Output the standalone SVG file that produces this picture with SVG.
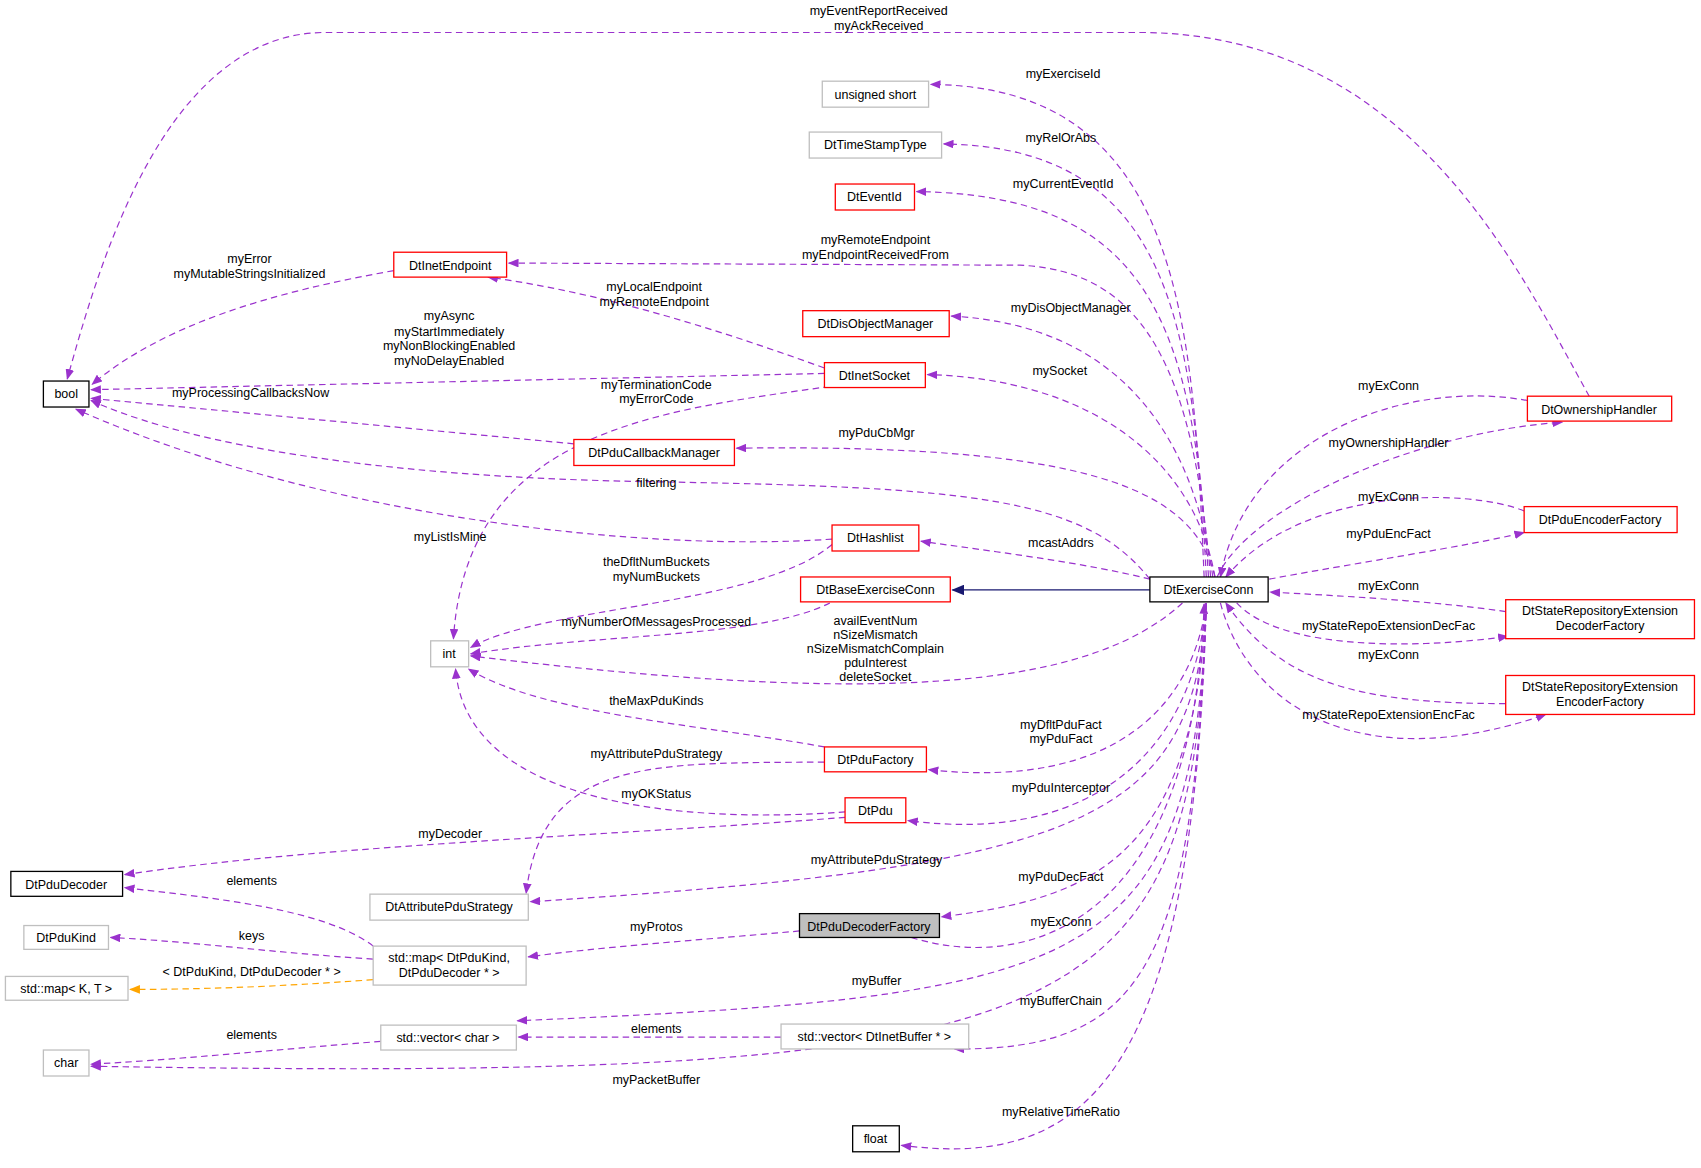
<svg xmlns="http://www.w3.org/2000/svg" width="1701" height="1168" viewBox="0 0 1701 1168">
<defs>
<marker id="a" markerWidth="10" markerHeight="8" refX="9" refY="4" orient="auto" markerUnits="userSpaceOnUse"><path d="M0,0 L10,4 L0,8 z" fill="#9a32cd"/></marker>
<marker id="o" markerWidth="10" markerHeight="8" refX="9" refY="4" orient="auto" markerUnits="userSpaceOnUse"><path d="M0,0 L10,4 L0,8 z" fill="#ffa500"/></marker>
<marker id="n" markerWidth="12" markerHeight="10" refX="11" refY="5" orient="auto" markerUnits="userSpaceOnUse"><path d="M0,0 L12,5 L0,10 z" fill="#191970"/></marker>
<style>
text{font-family:"Liberation Sans",Arial,sans-serif;font-size:11.5px;fill:#000;text-anchor:middle}
.n rect{fill:#fff;stroke-width:1.2}
.k rect{stroke:#000}.r rect{stroke:#ff0000}.g rect{stroke:#bfbfbf}
#e path{fill:none;stroke:#9a32cd;stroke-width:1.1;stroke-dasharray:6,4;marker-end:url(#a)}
#e path.or{stroke:#ffa500;marker-end:url(#o)}
#e path.sol{stroke:#191970;stroke-dasharray:none;marker-end:url(#n)}
</style>
</defs>
<rect width="1701" height="1168" fill="#fff"/>
<g transform="scale(1.0848,1.0825)">
<g id="e">
<path d="M1465,366 C1400,250 1300,30 1050,30 L300,30 C150,30 90,250 62,350"/>
<path d="M1110,533 C1100,300 1090,80 858,78"/>
<path d="M1112,533 C1100,300 1080,136 870,133"/>
<path d="M1114,533 C1100,300 1060,180 845,177"/>
<path d="M1116,533 C1100,350 1060,250 940,245 L469,243"/>
<path d="M1118,533 C1100,400 1030,300 877,292"/>
<path d="M1120,533 C1100,420 1000,350 855,346"/>
<path d="M1120,533 C1100,450 1000,410 679,414"/>
<path d="M1060,535 C1000,460 900,450 600,445 C300,440 150,400 84,370"/>
<path d="M1122,533 C1150,470 1300,400 1440,390"/>
<path d="M1408,370 C1300,350 1150,400 1125,533"/>
<path d="M1170,535 C1250,520 1350,505 1405,492"/>
<path d="M1405,472 C1350,450 1200,450 1130,533"/>
<path d="M1388,565 C1320,555 1230,550 1171,547"/>
<path d="M1140,557 C1180,600 1300,600 1390,588"/>
<path d="M1388,650 C1250,650 1180,630 1130,557"/>
<path d="M1125,557 C1150,650 1250,720 1425,660"/>
<path d="M1060,535 C1000,520 920,510 849,500"/>
<path d="M1090,557 C1000,640 800,650 434,606"/>
<path d="M1112,557 C1100,650 1030,730 856,711"/>
<path d="M1112,557 C1100,700 1000,780 837,758"/>
<path d="M1112,557 C1100,760 1000,800 489,833"/>
<path d="M1112,557 C1100,800 1000,830 868,847"/>
<path d="M840,866 C950,900 1100,850 1110,558"/>
<path d="M1112,557 C1100,900 1000,920 477,943"/>
<path d="M1112,557 C1100,900 1050,970 880,969"/>
<path d="M1112,557 C1100,950 1000,1000 84,985"/>
<path d="M1112,557 C1100,1000 1000,1080 831,1058"/>
<path d="M363,250 C250,270 150,300 85,355"/>
<path d="M760,340 C650,300 550,270 450,256"/>
<path d="M760,345 L84,360"/>
<path d="M765,357 C600,380 430,400 418,590"/>
<path d="M529,410 L84,368"/>
<path d="M767,498 C600,510 300,480 70,378"/>
<path d="M767,503 C700,560 500,560 434,598"/>
<path d="M765,557 C700,590 550,585 434,604"/>
<path class="sol" d="M1060,545 L878,545"/>
<path d="M760,690 C650,670 500,660 432,618"/>
<path d="M760,704 C600,705 500,700 485,825"/>
<path d="M779,750 C650,760 430,750 420,618"/>
<path d="M779,755 C600,770 300,780 115,808"/>
<path d="M344,874 C300,840 200,830 115,820"/>
<path d="M344,886 C250,880 180,870 102,866"/>
<path class="or" d="M344,905 C250,912 180,914 120,914"/>
<path d="M737,860 C650,868 550,875 487,884"/>
<path d="M720,958 L478,958"/>
<path d="M351,962 C250,970 150,980 84,983"/>
</g>
<g id="labels">
<text x="810" y="14">myEventReportReceived</text><text x="810" y="28">myAckReceived</text>
<text x="980" y="72">myExerciseId</text>
<text x="978" y="131">myRelOrAbs</text>
<text x="980" y="174">myCurrentEventId</text>
<text x="807" y="225">myRemoteEndpoint</text><text x="807" y="239">myEndpointReceivedFrom</text>
<text x="987" y="288">myDisObjectManager</text>
<text x="977" y="346">mySocket</text>
<text x="808" y="404">myPduCbMgr</text>
<text x="605" y="450">filtering</text>
<text x="1280" y="360">myExConn</text>
<text x="1280" y="413">myOwnershipHandler</text>
<text x="1280" y="463">myExConn</text>
<text x="1280" y="497">myPduEncFact</text>
<text x="1280" y="545">myExConn</text>
<text x="1280" y="582">myStateRepoExtensionDecFac</text>
<text x="1280" y="609">myExConn</text>
<text x="1280" y="664">myStateRepoExtensionEncFac</text>
<text x="978" y="505">mcastAddrs</text>
<text x="807" y="577">availEventNum</text><text x="807" y="590">nSizeMismatch</text><text x="807" y="603">nSizeMismatchComplain</text><text x="807" y="616">pduInterest</text><text x="807" y="629">deleteSocket</text>
<text x="978" y="673">myDfltPduFact</text><text x="978" y="686">myPduFact</text>
<text x="978" y="732">myPduInterceptor</text>
<text x="808" y="798">myAttributePduStrategy</text>
<text x="978" y="814">myPduDecFact</text>
<text x="978" y="855">myExConn</text>
<text x="808" y="910">myBuffer</text>
<text x="978" y="928">myBufferChain</text>
<text x="605" y="1001">myPacketBuffer</text>
<text x="978" y="1031">myRelativeTimeRatio</text>
<text x="230" y="243">myError</text><text x="230" y="257">myMutableStringsInitialized</text>
<text x="603" y="269">myLocalEndpoint</text><text x="603" y="283">myRemoteEndpoint</text>
<text x="414" y="296">myAsync</text><text x="414" y="310">myStartImmediately</text><text x="414" y="323">myNonBlockingEnabled</text><text x="414" y="337">myNoDelayEnabled</text>
<text x="605" y="359">myTerminationCode</text><text x="605" y="372">myErrorCode</text>
<text x="231" y="367">myProcessingCallbacksNow</text>
<text x="415" y="500">myListIsMine</text>
<text x="605" y="523">theDfltNumBuckets</text><text x="605" y="537">myNumBuckets</text>
<text x="605" y="578">myNumberOfMessagesProcessed</text>
<text x="605" y="651">theMaxPduKinds</text>
<text x="605" y="700">myAttributePduStrategy</text>
<text x="605" y="737">myOKStatus</text>
<text x="415" y="774">myDecoder</text>
<text x="232" y="818">elements</text>
<text x="232" y="868">keys</text>
<text x="232" y="902">&lt; DtPduKind, DtPduDecoder * &gt;</text>
<text x="605" y="860">myProtos</text>
<text x="605" y="954">elements</text>
<text x="232" y="960">elements</text>
</g>
<g id="bool" class="n k"><rect x="40" y="352" width="42" height="24"/><text x="61" y="368">bool</text></g>
<g id="DtPduDecoder" class="n k"><rect x="10" y="805" width="103" height="23"/><text x="61" y="821">DtPduDecoder</text></g>
<g id="DtPduKind" class="n g"><rect x="22" y="855" width="78" height="22"/><text x="61" y="870">DtPduKind</text></g>
<g id="mapKT" class="n g"><rect x="5" y="902" width="113" height="22"/><text x="61" y="917">std::map&lt; K, T &gt;</text></g>
<g id="char" class="n g"><rect x="40" y="970" width="42" height="24"/><text x="61" y="986">char</text></g>
<g id="ushort" class="n g"><rect x="758" y="75" width="98" height="24"/><text x="807" y="91">unsigned short</text></g>
<g id="DtTimeStampType" class="n g"><rect x="746" y="122" width="122" height="24"/><text x="807" y="138">DtTimeStampType</text></g>
<g id="DtEventId" class="n r"><rect x="770" y="170" width="73" height="24"/><text x="806" y="186">DtEventId</text></g>
<g id="DtInetEndpoint" class="n r"><rect x="363" y="233" width="104" height="23"/><text x="415" y="249">DtInetEndpoint</text></g>
<g id="DtDisObjectManager" class="n r"><rect x="740" y="287" width="135" height="24"/><text x="807" y="303">DtDisObjectManager</text></g>
<g id="DtInetSocket" class="n r"><rect x="760" y="335" width="93" height="23"/><text x="806" y="351">DtInetSocket</text></g>
<g id="DtPduCallbackManager" class="n r"><rect x="529" y="406" width="148" height="24"/><text x="603" y="422">DtPduCallbackManager</text></g>
<g id="DtHashlist" class="n r"><rect x="767" y="485" width="80" height="24"/><text x="807" y="501">DtHashlist</text></g>
<g id="DtBaseExerciseConn" class="n r"><rect x="738" y="533" width="138" height="23"/><text x="807" y="549">DtBaseExerciseConn</text></g>
<g id="DtExerciseConn" class="n k"><rect x="1060" y="533" width="109" height="23"/><text x="1114" y="549">DtExerciseConn</text></g>
<g id="int" class="n g"><rect x="397" y="592" width="35" height="24"/><text x="414" y="608">int</text></g>
<g id="DtPduFactory" class="n r"><rect x="760" y="690" width="94" height="23"/><text x="807" y="706">DtPduFactory</text></g>
<g id="DtPdu" class="n r"><rect x="779" y="737" width="56" height="23"/><text x="807" y="753">DtPdu</text></g>
<g id="DtAttributePduStrategy" class="n g"><rect x="341" y="826" width="146" height="24"/><text x="414" y="842">DtAttributePduStrategy</text></g>
<g id="DtPduDecoderFactory" class="n"><rect x="737" y="844" width="129" height="22" style="fill:#bfbfbf;stroke:#000"/><text x="801" y="860">DtPduDecoderFactory</text></g>
<g id="mapKindDecoder" class="n g"><rect x="344" y="874" width="141" height="36"/><text x="414" y="889">std::map&lt; DtPduKind,</text><text x="414" y="903">DtPduDecoder * &gt;</text></g>
<g id="vecChar" class="n g"><rect x="351" y="947" width="125" height="23"/><text x="413" y="963">std::vector&lt; char &gt;</text></g>
<g id="vecBuf" class="n g"><rect x="720" y="946" width="173" height="23"/><text x="806" y="962">std::vector&lt; DtInetBuffer * &gt;</text></g>
<g id="float" class="n k"><rect x="786" y="1040" width="43" height="24"/><text x="807" y="1056">float</text></g>
<g id="DtOwnershipHandler" class="n r"><rect x="1408" y="366" width="133" height="23"/><text x="1474" y="382">DtOwnershipHandler</text></g>
<g id="DtPduEncoderFactory" class="n r"><rect x="1405" y="468" width="141" height="24"/><text x="1475" y="484">DtPduEncoderFactory</text></g>
<g id="DtSREDecoderFactory" class="n r"><rect x="1388" y="554" width="174" height="36"/><text x="1475" y="568">DtStateRepositoryExtension</text><text x="1475" y="582">DecoderFactory</text></g>
<g id="DtSREEncoderFactory" class="n r"><rect x="1388" y="624" width="174" height="36"/><text x="1475" y="638">DtStateRepositoryExtension</text><text x="1475" y="652">EncoderFactory</text></g>
</g>
</svg>
